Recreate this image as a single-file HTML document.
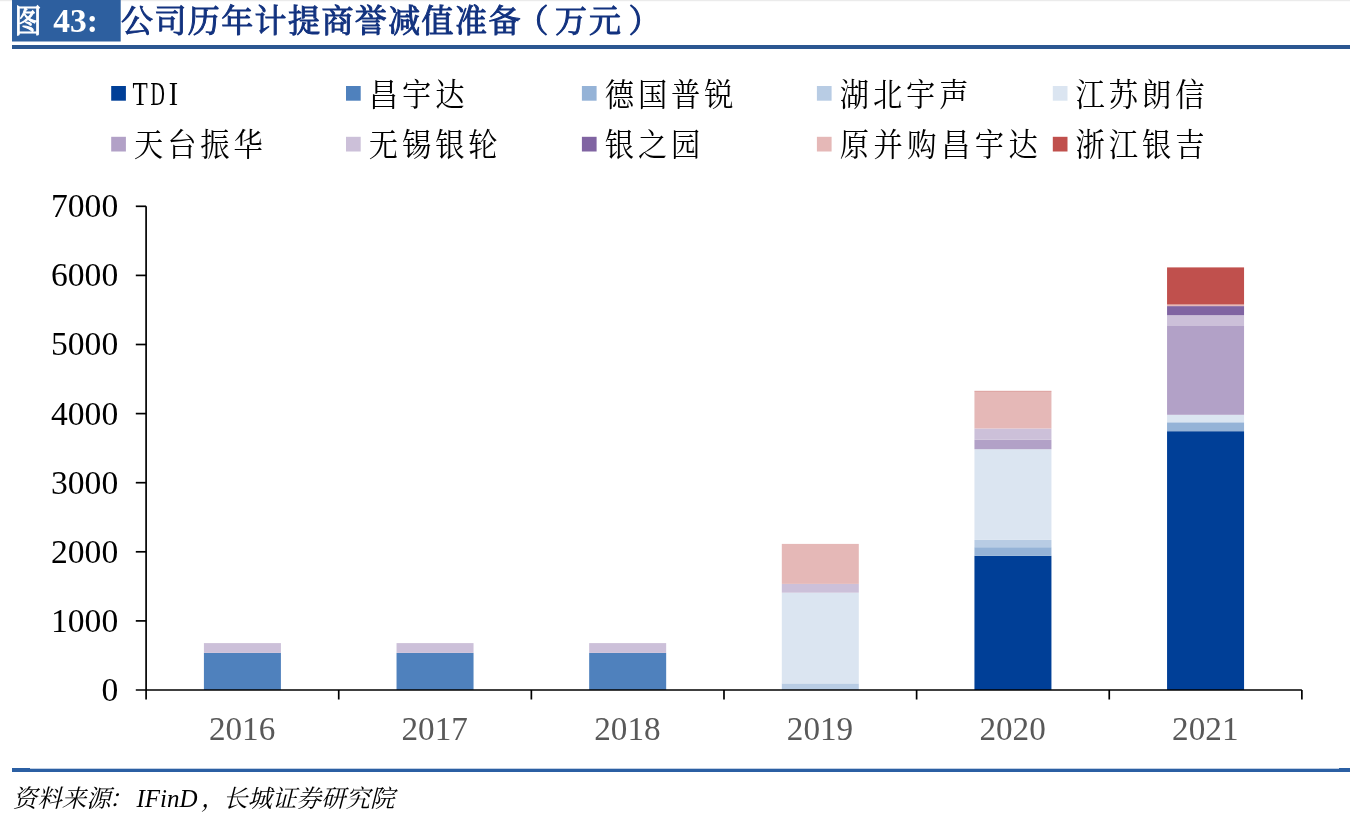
<!DOCTYPE html>
<html lang="zh-CN"><head><meta charset="utf-8"><title>图 43</title>
<style>html,body{margin:0;padding:0;background:#fff;width:1350px;height:820px;overflow:hidden}</style>
</head><body>
<svg width="1350" height="820" viewBox="0 0 1350 820" style="position:absolute;left:0;top:0">
<rect x="0" y="0" width="1350" height="1" fill="#ebebeb"/>
<rect x="0" y="1" width="1350" height="1" fill="#fbfbfb"/>
<rect x="12" y="0" width="108.7" height="41.5" fill="#2D5F9F"/>
<rect x="12" y="45" width="1338" height="4" fill="#2B5791"/>
<rect x="12" y="768.7" width="1338" height="3.3" fill="#2B5FA3"/>
<rect x="12" y="768" width="18" height="1" fill="#2B5FA3"/>
<rect x="1339" y="768" width="11" height="1" fill="#2B5FA3"/>
<rect x="203.91" y="652.90" width="77.00" height="37.10" fill="#4F81BD"/>
<rect x="203.91" y="643.10" width="77.00" height="9.80" fill="#CCC0D9"/>
<rect x="396.54" y="652.90" width="77.00" height="37.10" fill="#4F81BD"/>
<rect x="396.54" y="643.10" width="77.00" height="9.80" fill="#CCC0D9"/>
<rect x="589.17" y="652.90" width="77.00" height="37.10" fill="#4F81BD"/>
<rect x="589.17" y="643.10" width="77.00" height="9.80" fill="#CCC0D9"/>
<rect x="781.80" y="683.40" width="77.00" height="6.60" fill="#B8CCE4"/>
<rect x="781.80" y="592.70" width="77.00" height="90.70" fill="#DBE5F1"/>
<rect x="781.80" y="583.90" width="77.00" height="8.80" fill="#CCC0D9"/>
<rect x="781.80" y="543.90" width="77.00" height="40.00" fill="#E5B8B7"/>
<rect x="974.44" y="555.80" width="77.00" height="134.20" fill="#003F97"/>
<rect x="974.44" y="547.20" width="77.00" height="8.60" fill="#95B3D7"/>
<rect x="974.44" y="539.90" width="77.00" height="7.30" fill="#B8CCE4"/>
<rect x="974.44" y="449.20" width="77.00" height="90.70" fill="#DBE5F1"/>
<rect x="974.44" y="439.80" width="77.00" height="9.40" fill="#B2A1C7"/>
<rect x="974.44" y="428.50" width="77.00" height="11.30" fill="#CCC0D9"/>
<rect x="974.44" y="391.30" width="77.00" height="37.20" fill="#E5B8B7"/>
<rect x="974.44" y="390.90" width="77.00" height="0.40" fill="#C0504D"/>
<rect x="1167.06" y="431.20" width="77.00" height="258.80" fill="#003F97"/>
<rect x="1167.06" y="422.30" width="77.00" height="8.90" fill="#95B3D7"/>
<rect x="1167.06" y="414.80" width="77.00" height="7.50" fill="#DBE5F1"/>
<rect x="1167.06" y="326.00" width="77.00" height="88.80" fill="#B2A1C7"/>
<rect x="1167.06" y="315.20" width="77.00" height="10.80" fill="#CCC0D9"/>
<rect x="1167.06" y="306.10" width="77.00" height="9.10" fill="#8064A2"/>
<rect x="1167.06" y="304.50" width="77.00" height="1.60" fill="#E5B8B7"/>
<rect x="1167.06" y="267.40" width="77.00" height="37.10" fill="#C0504D"/>
<g stroke="#000" stroke-width="1.7" fill="none">
<path d="M146.10 206.3V699.50"/>
<path d="M135.80 690.00H1301.88"/>
<path d="M135.80 620.90H146.10"/>
<path d="M135.80 551.80H146.10"/>
<path d="M135.80 482.70H146.10"/>
<path d="M135.80 413.60H146.10"/>
<path d="M135.80 344.50H146.10"/>
<path d="M135.80 275.40H146.10"/>
<path d="M135.80 206.30H146.10"/>
<path d="M338.73 690.00V699.50"/>
<path d="M531.36 690.00V699.50"/>
<path d="M723.99 690.00V699.50"/>
<path d="M916.62 690.00V699.50"/>
<path d="M1109.25 690.00V699.50"/>
<path d="M1301.88 690.00V699.50"/>
</g>
<g font-family="'Liberation Serif',serif" font-size="33.6" fill="#000" text-anchor="end">
<text transform="translate(118.2,700.9) scale(1,1.006)">0</text>
<text transform="translate(118.2,631.8) scale(1,1.006)">1000</text>
<text transform="translate(118.2,562.7) scale(1,1.006)">2000</text>
<text transform="translate(118.2,493.6) scale(1,1.006)">3000</text>
<text transform="translate(118.2,424.5) scale(1,1.006)">4000</text>
<text transform="translate(118.2,355.4) scale(1,1.006)">5000</text>
<text transform="translate(118.2,286.3) scale(1,1.006)">6000</text>
<text transform="translate(118.2,217.2) scale(1,1.006)">7000</text>
</g>
<g font-family="'Liberation Serif',serif" font-size="33.2" fill="#595959" text-anchor="middle">
<text transform="translate(242.1,739.8) scale(1,1.006)">2016</text>
<text transform="translate(434.7,739.8) scale(1,1.006)">2017</text>
<text transform="translate(627.4,739.8) scale(1,1.006)">2018</text>
<text transform="translate(820.0,739.8) scale(1,1.006)">2019</text>
<text transform="translate(1012.6,739.8) scale(1,1.006)">2020</text>
<text transform="translate(1205.3,739.8) scale(1,1.006)">2021</text>
</g>
<g font-family="'Liberation Serif','Noto Serif CJK SC',serif" font-size="29.3" fill="#000" letter-spacing="3.9">
<rect x="111.2" y="86.0" width="14.7" height="14.7" fill="#003F97"/>
<g font-size="33" letter-spacing="0"><text transform="translate(132.5,104.5) scale(0.757,1)">T</text><text transform="translate(150.5,104.5) scale(0.603,1)">D</text><text transform="translate(168.8,104.5) scale(0.85,1)">I</text></g>
<rect x="346.0" y="86.0" width="14.7" height="14.7" fill="#4F81BD"/>
<text transform="translate(368.8,105.6) scale(1,1.10)">昌宇达</text>
<rect x="581.9" y="86.0" width="14.7" height="14.7" fill="#95B3D7"/>
<text transform="translate(604.7,105.6) scale(1,1.10)">德国普锐</text>
<rect x="816.9" y="86.0" width="14.7" height="14.7" fill="#B8CCE4"/>
<text transform="translate(839.7,105.6) scale(1,1.10)">湖北宇声</text>
<rect x="1052.8" y="86.0" width="14.7" height="14.7" fill="#DBE5F1"/>
<text transform="translate(1075.6,105.6) scale(1,1.10)">江苏朗信</text>
<rect x="111.2" y="136.8" width="14.7" height="14.7" fill="#B2A1C7"/>
<text transform="translate(134.0,156.4) scale(1,1.10)">天台振华</text>
<rect x="346.0" y="136.8" width="14.7" height="14.7" fill="#CCC0D9"/>
<text transform="translate(368.8,156.4) scale(1,1.10)">无锡银轮</text>
<rect x="581.9" y="136.8" width="14.7" height="14.7" fill="#8064A2"/>
<text transform="translate(604.7,156.4) scale(1,1.10)">银之园</text>
<rect x="816.9" y="136.8" width="14.7" height="14.7" fill="#E5B8B7"/>
<text transform="translate(839.7,156.4) scale(1,1.10)" letter-spacing="4.5">原并购昌宇达</text>
<rect x="1052.8" y="136.8" width="14.7" height="14.7" fill="#C0504D"/>
<text transform="translate(1075.6,156.4) scale(1,1.10)">浙江银吉</text>
</g>
<text x="14.5" y="32" font-family="'Liberation Serif','Noto Serif CJK SC',serif" font-weight="400" font-size="32" fill="#fff" stroke="#fff" stroke-width="1" textLength="27" lengthAdjust="spacingAndGlyphs">图</text>
<text x="53.3" y="32" font-family="'Liberation Serif',serif" font-weight="bold" font-size="33.5" fill="#fff">43:</text>
<text y="32" font-family="'Liberation Serif','Noto Serif CJK SC',serif" font-weight="400" font-size="32" fill="#12327F" stroke="#12327F" stroke-width="1"><tspan x="121" letter-spacing="1.4">公司历年计提商誉减值准备</tspan><tspan x="516.5 555 589 628.5">（万元）</tspan></text>
<text y="807" font-family="'Liberation Serif','Noto Serif CJK SC',serif" font-style="italic" font-size="24.5" fill="#000"><tspan x="12.8">资料来源</tspan><tspan x="108.7">：</tspan><tspan x="136.5" font-size="25">IFinD</tspan><tspan x="201">，</tspan><tspan x="223">长城证券研究院</tspan></text>
</svg>
</body></html>
